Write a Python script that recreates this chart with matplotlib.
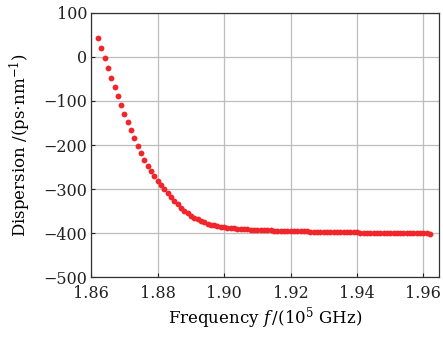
import numpy as np
import matplotlib.pyplot as plt

plt.rcParams['font.family'] = 'DejaVu Serif'
plt.rcParams['mathtext.fontset'] = 'dejavuserif'

# ---------- Data ----------

freq_start = 1.862
freq_step = 0.001

dispersion = [
    43.0, 20.4, -2.3, -24.9, -47.5, -67.9, -89.1, -110.2, -129.0, -148.0,
    -166.7, -184.8, -201.4, -217.6, -233.5, -247.1, -259.5, -270.8, -281.0, -291.2,
    -300.2, -309.3, -318.3, -326.2, -334.2, -342.1, -348.9, -354.5, -360.2, -364.7,
    -368.8, -372.6, -375.8, -378.5, -380.8, -382.6, -384.2, -385.5, -386.7, -387.6,
    -388.5, -389.1, -389.8, -390.5, -391.0, -391.4, -391.9, -392.3, -392.8, -393.0,
    -393.4, -393.7, -393.9, -394.1, -394.3, -394.6, -394.8, -395.0, -395.2, -395.4,
    -395.6, -395.8, -396.0, -396.2, -396.4, -396.5, -396.7, -396.9, -397.0, -397.2,
    -397.4, -397.5, -397.7, -397.8, -398.0, -398.1, -398.3, -398.4, -398.6, -398.7,
    -398.8, -398.9, -399.1, -399.2, -399.3, -399.4, -399.5, -399.6, -399.7, -399.8,
    -399.9, -400.0, -400.1, -400.2, -400.3, -400.4, -400.5, -400.6, -400.7, -400.8,
    -400.9,
]
frequency = freq_start + freq_step * np.arange(len(dispersion))

x_ticks = [1.86, 1.88, 1.90, 1.92, 1.94, 1.96]
x_tick_labels = ['1.86', '1.88', '1.90', '1.92', '1.94', '1.96']
y_ticks = [-500, -400, -300, -200, -100, 0, 100]

# ---------- Plot ----------

fig = plt.figure(figsize=(4.43, 3.38), dpi=100)
ax = fig.add_axes([0.206, 0.180, 0.785, 0.782])

ax.plot(frequency, dispersion, 'o', color='#f0262a', ms=4.2, mec='none')

ax.set_xlim(1.86, 1.9647)
ax.set_ylim(-500, 100)
ax.set_xticks(x_ticks)
ax.set_xticklabels(x_tick_labels)
ax.set_yticks(y_ticks)
ax.tick_params(direction='in', labelsize=11.5, length=3, width=0.8,
               colors='#222222')
ax.tick_params(axis='x', pad=6)
ax.tick_params(axis='y', pad=3)
ax.grid(True, color='#bdbdbd', linewidth=0.9)
ax.set_axisbelow(True)
for s in ax.spines.values():
    s.set_linewidth(0.9)
    s.set_color('#333333')

ax.set_xlabel(r'Frequency $f\,$/(10$^5$ GHz)', fontsize=12, labelpad=2)
ax.set_ylabel(r'Dispersion /(ps$\cdot$nm$^{-1}$)', fontsize=12, labelpad=7)

fig.savefig('out.png', dpi=100)
